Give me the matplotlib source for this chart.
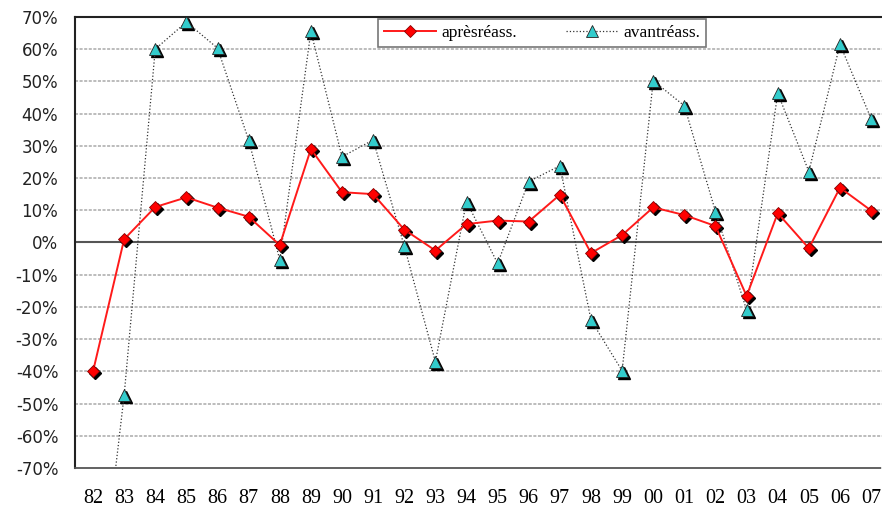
import matplotlib
matplotlib.use("Agg")
import matplotlib.pyplot as plt
import matplotlib.transforms as mtransforms
from matplotlib.ticker import FuncFormatter

# données (en %)
annees = ['82', '83', '84', '85', '86', '87', '88', '89', '90', '91', '92', '93', '94',
          '95', '96', '97', '98', '99', '00', '01', '02', '03', '04', '05', '06', '07']
apres = [-40, 1, 11, 14, 10.8, 8, -0.8, 29, 15.6, 15, 4, -2.5, 5.7,
         6.8, 6.5, 14.8, -3.3, 2.3, 10.9, 8.5, 5.1, -16.6, 9.1, -1.8, 17, 9.9]
avant = [-130, -47.4, 60, 68.4, 60.3, 31.8, -5.4, 65.5, 26.6, 31.8, -1.1, -37, 12.7,
         -6.5, 18.9, 23.8, -24.1, -39.8, 50.2, 42.4, 9.6, -21, 46.3, 22, 61.5, 38.4]

x = list(range(len(annees)))

fig = plt.figure(figsize=(8.82, 5.11), dpi=100)
ax = fig.add_axes([0.085, 0.084, 0.915, 0.883])

# ombres des marqueurs
ombre = mtransforms.offset_copy(ax.transData, fig=fig, x=2, y=-2, units='dots')
ax.plot(x, apres, linestyle='none', marker='D', markersize=6, color='black',
        transform=ombre, zorder=3)
ax.plot(x, avant, linestyle='none', marker='^', markersize=8, color='black',
        transform=ombre, zorder=3)

ax.plot(x, avant, color='#333333', linestyle=':', linewidth=0.9, marker='^',
        markersize=8, markerfacecolor='#33CCCC', markeredgecolor='#222222',
        markeredgewidth=0.6, label='avantréass.', zorder=4)
ax.plot(x, apres, color='#FF1A1A', linewidth=1.4, marker='D', markersize=6,
        markerfacecolor='#FF0000', markeredgecolor='#880000', markeredgewidth=0.6,
        label='aprèsréass.', zorder=5)

ax.set_xlim(-0.58, 25.35)
ax.set_ylim(-70, 70)
ax.set_yticks(range(-70, 71, 10))
ax.yaxis.set_major_formatter(FuncFormatter(lambda v, p: '%d%%' % v))
ax.set_xticks(x)
ax.set_xticklabels(annees, family='Liberation Serif', fontsize=14.5)
for t in ax.get_yticklabels():
    t.set_family('DejaVu Sans')
    t.set_fontsize(12)
    t.set_color('#222222')
ax.tick_params(axis='x', length=0, pad=15)
ax.tick_params(axis='y', length=0, pad=12)

for v in range(-60, 71, 10):
    if v != 0:
        ax.axhline(v, color='#aaaaaa', linestyle=(0, (2, 1)), linewidth=1.1, zorder=1)
ax.axhline(0, color='#555555', linewidth=1.5, zorder=2)

for s in ['top', 'left']:
    ax.spines[s].set_linewidth(1.5)
    ax.spines[s].set_color('#222222')
ax.spines['bottom'].set_color('#555555')
ax.spines['bottom'].set_linewidth(1.3)
ax.spines['bottom'].set_linestyle((0, (2, 1)))
ax.spines['right'].set_visible(False)

h, l = ax.get_legend_handles_labels()
leg = ax.legend([h[1], h[0]], [l[1], l[0]], loc='upper center',
                bbox_to_anchor=(0.579, 0.996), borderaxespad=0, ncol=2,
                frameon=True, fancybox=False,
                prop={'family': 'Liberation Serif', 'size': 12.5}, handlelength=3.0,
                columnspacing=2.8, borderpad=0.35, handletextpad=0.3)
leg.get_frame().set_edgecolor('#555555')
leg.get_frame().set_linewidth(1.2)

fig.savefig('out.png', dpi=100)
